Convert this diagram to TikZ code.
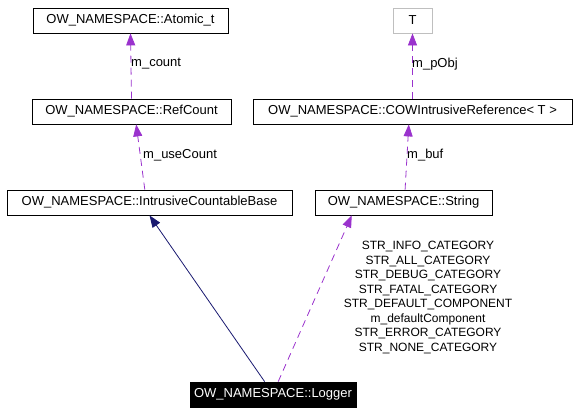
\documentclass[tikz,border=0pt]{standalone}
\usepackage{xcolor}
\usepackage{fontspec}
\setmainfont{Liberation Sans}
\usepackage{tikz}
\usetikzlibrary{arrows.meta}

\definecolor{memberpurple}{HTML}{9A32CD}
\definecolor{basenavy}{HTML}{191970}

\tikzset{
	cls/.style={draw=black, line width=0.8pt, rectangle, inner sep=0pt, minimum height=25pt, font=\fontsize{13}{14.5}\selectfont},
	tmpl/.style={cls, draw=gray!50!white},
	usage/.style={memberpurple, line width=0.8pt, dash pattern=on 7pt off 5pt, -{Triangle[length=12pt,width=9pt]}},
	inherit/.style={basenavy, line width=0.8pt, -{Triangle[length=12pt,width=9pt]}},
	lbl/.style={font=\fontsize{13}{14.5}\selectfont, inner sep=0pt}
}

\begin{document}
\begin{tikzpicture}[x=1pt, y=-1pt]
	\useasboundingbox (0,0) rectangle (577,413);

	% classes
	\node (atomic) at (130.5,20.5) [cls, minimum width=195pt] {OW\_NAMESPACE::Atomic\_t};
	\node (refcount) at (131.5,111.5) [cls, minimum width=199pt] {OW\_NAMESPACE::RefCount};
	\node (icb) at (149.5,202.5) [cls, minimum width=285pt] {OW\_NAMESPACE::IntrusiveCountableBase};
	\node (tparam) at (412.5,20.5) [tmpl, minimum width=39pt] {T};
	\node (cow) at (412.5,111.5) [cls, minimum width=319pt] {OW\_NAMESPACE::COWIntrusiveReference< T >};
	\node (string) at (403.5,202.5) [cls, minimum width=177pt] {OW\_NAMESPACE::String};
	\node (logger) at (273,394.5) [cls, fill=black, text=white, minimum width=166pt] {OW\_NAMESPACE::Logger};

	% members
	\draw [usage] (refcount.north) -- (atomic.south);
	\node (lcount) at (131,64) [lbl, anchor=west] {m\_count};
	\draw [usage] (icb.110) -- (refcount.290);
	\node (lusecount) at (143,155) [lbl, anchor=west] {m\_useCount};
	\draw [usage] (cow.north) -- (tparam.south);
	\node (lpobj) at (412,64) [lbl, anchor=west] {m\_pObj};
	\draw [usage] (string.83) -- (cow.254);
	\node (lbuf) at (407,155) [lbl, anchor=west] {m\_buf};

	% logger
	\draw [inherit] (logger.123) -- (icb.south);
	\draw [usage] (logger.68) -- (string.194);
	\node (lstrings) at (428,297.5) [lbl, align=center, font=\fontsize{12}{14.5}\selectfont] {STR\_INFO\_CATEGORY\\STR\_ALL\_CATEGORY\\STR\_DEBUG\_CATEGORY\\STR\_FATAL\_CATEGORY\\STR\_DEFAULT\_COMPONENT\\m\_defaultComponent\\STR\_ERROR\_CATEGORY\\STR\_NONE\_CATEGORY};
\end{tikzpicture}
\end{document}
